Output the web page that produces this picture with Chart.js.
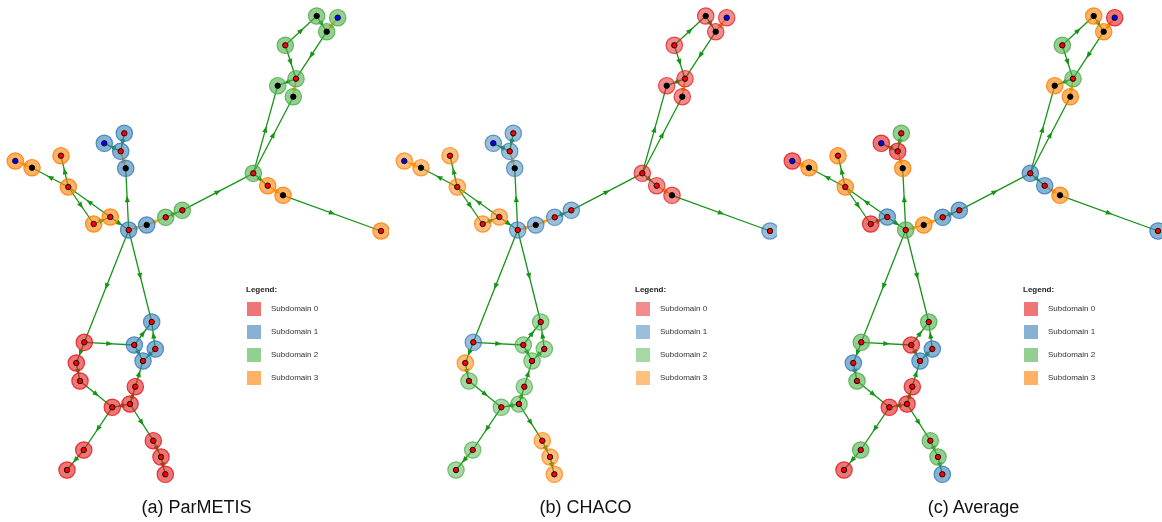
<!DOCTYPE html>
<html>
<head>
<meta charset="utf-8">
<script src="https://cdn.jsdelivr.net/npm/chart.js@4/dist/chart.umd.min.js"></script>
<style>
  body { margin: 0; background: #fff; width: 1162px; height: 522px; position: relative; overflow: hidden;
         font-family: "Liberation Sans", Arial, sans-serif; }
  .panel { position: absolute; top: 0; height: 522px; }
  .panel canvas { position: absolute; left: 0; top: 0; }
  .legend { position: absolute; left: 246px; top: 284px; font-size: 8px; color: #222; }
  .legend .title { font-weight: bold; height: 12px; line-height: 12px; margin-bottom: 6px; }
  .legend .row { position: relative; height: 23px; }
  .legend .box { position: absolute; left: 1px; top: 0; width: 14px; height: 14px; }
  .legend .lbl { position: absolute; left: 25px; top: 2px; line-height: 10px; white-space: nowrap; color: #333; }
  .caption { position: absolute; top: 497px; width: 389px; text-align: center; font-size: 18px; line-height: 20px; color: #111; }
</style>
</head>
<body>
<script>
"use strict";

// node layout (panel pixel units, y downward)
const nodeX = [316.7, 337.7, 326.7, 285.3, 296.0, 277.7, 293.3, 253.3, 267.7, 283.0,
               381.0, 182.3, 165.7, 146.7, 128.7, 124.3, 104.3, 120.7, 125.7, 15.3,
               32.0, 61.0, 68.3, 93.7, 110.3, 151.7, 84.3, 134.3, 155.3, 76.3,
               143.0, 80.0, 135.3, 130.0, 112.3, 153.3, 83.7, 161.0, 67.0, 165.3];
const nodeY = [16.0, 17.7, 31.7, 45.3, 78.7, 85.7, 96.7, 173.3, 185.7, 195.3,
               231.0, 210.3, 217.3, 225.0, 230.0, 133.3, 143.3, 151.3, 168.3, 161.0,
               167.7, 155.7, 187.0, 224.0, 217.0, 322.0, 342.3, 345.0, 349.0, 363.0,
               361.0, 381.0, 386.7, 404.0, 407.3, 440.7, 450.0, 457.0, 470.0, 474.3];
// marker kind in the middle of every node: r = red, k = black, b = blue
const nodeKind = ['k', 'b', 'k', 'r', 'r', 'k', 'k', 'r', 'r', 'k',
                  'r', 'r', 'r', 'k', 'r', 'r', 'b', 'r', 'k', 'b',
                  'k', 'r', 'r', 'r', 'r', 'r', 'r', 'r', 'r', 'r',
                  'r', 'r', 'r', 'r', 'r', 'r', 'r', 'r', 'r', 'r'];

// directed edges, plus which ones are the special (orange) links
const edgeFrom = [3, 0, 2, 2, 3, 4, 6, 7, 7, 7, 9, 9, 11, 12, 13, 14, 14, 18, 15, 17,
                  24, 24, 22, 23, 22, 22, 20,
                  14, 14, 26, 27, 28, 27, 28, 32, 33, 33, 31, 26, 29, 34, 36, 33, 35, 37];
const edgeTo   = [0, 2, 1, 4, 4, 5, 4, 5, 6, 8, 8, 10, 7, 11, 12, 13, 18, 17, 17, 16,
                  22, 14, 23, 24, 21, 20, 19,
                  26, 25, 27, 25, 25, 30, 30, 30, 32, 34, 34, 29, 31, 36, 38, 35, 37, 39];
const edgeSpecial = [0, 0, 1, 0, 0, 0, 1, 0, 0, 0, 1, 0, 0, 0, 1, 1, 0, 1, 0, 0,
                     0, 0, 0, 0, 0, 0, 1,
                     0, 0, 0, 0, 0, 0, 0, 0, 0, 0, 0, 0, 0, 0, 0, 0, 0, 0];

// subdomain of each node for every partitioner
const partParMETIS = [2, 2, 2, 2, 2, 2, 2, 2, 3, 3, 3, 2, 2, 1, 1, 1, 1, 1, 1, 3,
                      3, 3, 3, 3, 3, 1, 0, 1, 1, 0, 1, 0, 0, 0, 0, 0, 0, 0, 0, 0];
const partCHACO    = [0, 0, 0, 0, 0, 0, 0, 0, 0, 0, 1, 1, 1, 1, 1, 1, 1, 1, 1, 3,
                      3, 3, 3, 3, 3, 2, 1, 2, 2, 3, 2, 2, 2, 2, 2, 3, 2, 3, 2, 3];
const partAverage  = [3, 0, 3, 2, 2, 3, 3, 1, 1, 3, 1, 1, 1, 3, 2, 2, 0, 0, 3, 0,
                      3, 3, 3, 0, 1, 2, 2, 0, 1, 1, 1, 2, 0, 0, 0, 2, 2, 2, 0, 1];

const subdomainLabels = ['Subdomain 0', 'Subdomain 1', 'Subdomain 2', 'Subdomain 3'];
const captions = ['(a) ParMETIS', '(b) CHACO', '(c) Average'];

const SUB_RGB = ['228,26,28', '55,126,184', '77,175,74', '255,127,0'];
const KIND_COLOR = { r: '#ff0000', k: '#000000', b: '#0000ff' };

const panels = [
    { left: 0, width: 389, part: partParMETIS, alpha: 0.6, caption: captions[0] },
    { left: 389, width: 388, part: partCHACO, alpha: 0.5, caption: captions[1] },
    { left: 777, width: 385, part: partAverage, alpha: 0.6, caption: captions[2] }
];

// edges with a small arrowhead halfway along
const edgePlugin = {
    id: 'edges',
    beforeDatasetsDraw(chart) {
        const ctx = chart.ctx;
        const sx = chart.scales.x, sy = chart.scales.y;
        ctx.save();
        for (let i = 0; i < edgeFrom.length; i++) {
            const x1 = sx.getPixelForValue(nodeX[edgeFrom[i]]);
            const y1 = sy.getPixelForValue(nodeY[edgeFrom[i]]);
            const x2 = sx.getPixelForValue(nodeX[edgeTo[i]]);
            const y2 = sy.getPixelForValue(nodeY[edgeTo[i]]);
            const col = edgeSpecial[i] ? 'rgb(255,165,0)' : 'rgb(22,148,22)';
            ctx.strokeStyle = col;
            ctx.fillStyle = col;
            ctx.lineWidth = 1.3;
            ctx.beginPath();
            ctx.moveTo(x1, y1);
            ctx.lineTo(x2, y2);
            ctx.stroke();

            const ang = Math.atan2(y2 - y1, x2 - x1);
            const mx = (x1 + x2) / 2, my = (y1 + y2) / 2;
            ctx.save();
            ctx.translate(mx, my);
            ctx.rotate(ang);
            ctx.beginPath();
            ctx.moveTo(3.5, 0);
            ctx.lineTo(-3, -2.6);
            ctx.lineTo(-3, 2.6);
            ctx.closePath();
            ctx.fill();
            ctx.restore();
        }
        ctx.restore();
    }
};

panels.forEach(function (p) {
    const div = document.createElement('div');
    div.className = 'panel';
    div.style.left = p.left + 'px';
    div.style.width = p.width + 'px';
    document.body.appendChild(div);

    const canvas = document.createElement('canvas');
    canvas.width = p.width;
    canvas.height = 522;
    div.appendChild(canvas);

    const datasets = [];
    // outer discs, one dataset per subdomain
    for (let s = 0; s < 4; s++) {
        const pts = [];
        for (let i = 0; i < nodeX.length; i++) {
            if (p.part[i] === s) pts.push({ x: nodeX[i], y: nodeY[i] });
        }
        datasets.push({
            label: subdomainLabels[s],
            data: pts,
            pointRadius: 8.2,
            pointBackgroundColor: 'rgba(' + SUB_RGB[s] + ',' + p.alpha + ')',
            pointBorderColor: 'rgba(' + SUB_RGB[s] + ',' + (p.alpha + 0.25) + ')',
            pointBorderWidth: 1.2,
            order: 2,
            clip: false
        });
    }
    // centre markers
    ['r', 'k', 'b'].forEach(function (k) {
        const pts = [];
        for (let i = 0; i < nodeX.length; i++) {
            if (nodeKind[i] === k) pts.push({ x: nodeX[i], y: nodeY[i] });
        }
        datasets.push({
            label: 'centre ' + k,
            data: pts,
            pointRadius: 2.7,
            pointBackgroundColor: KIND_COLOR[k],
            pointBorderColor: '#000',
            pointBorderWidth: 0.9,
            order: 1,
            clip: false
        });
    });

    new Chart(canvas.getContext('2d'), {
        type: 'scatter',
        data: { datasets: datasets },
        options: {
            responsive: false,
            animation: false,
            events: [],
            layout: { padding: 0, autoPadding: false },
            scales: {
                x: { type: 'linear', min: 0, max: p.width, display: false },
                y: { type: 'linear', min: 0, max: 522, reverse: true, display: false }
            },
            plugins: {
                legend: { display: false },
                tooltip: { enabled: false }
            }
        },
        plugins: [edgePlugin]
    });

    // legend block
    const leg = document.createElement('div');
    leg.className = 'legend';
    let html = '<div class="title">Legend:</div>';
    for (let s = 0; s < 4; s++) {
        html += '<div class="row"><div class="box" style="background:rgba(' + SUB_RGB[s] + ',' + p.alpha +
                ')"></div><div class="lbl">' + subdomainLabels[s] + '</div></div>';
    }
    leg.innerHTML = html;
    div.appendChild(leg);

    const cap = document.createElement('div');
    cap.className = 'caption';
    cap.style.left = '2px';
    cap.textContent = p.caption;
    div.appendChild(cap);
});
</script>
</body>
</html>
